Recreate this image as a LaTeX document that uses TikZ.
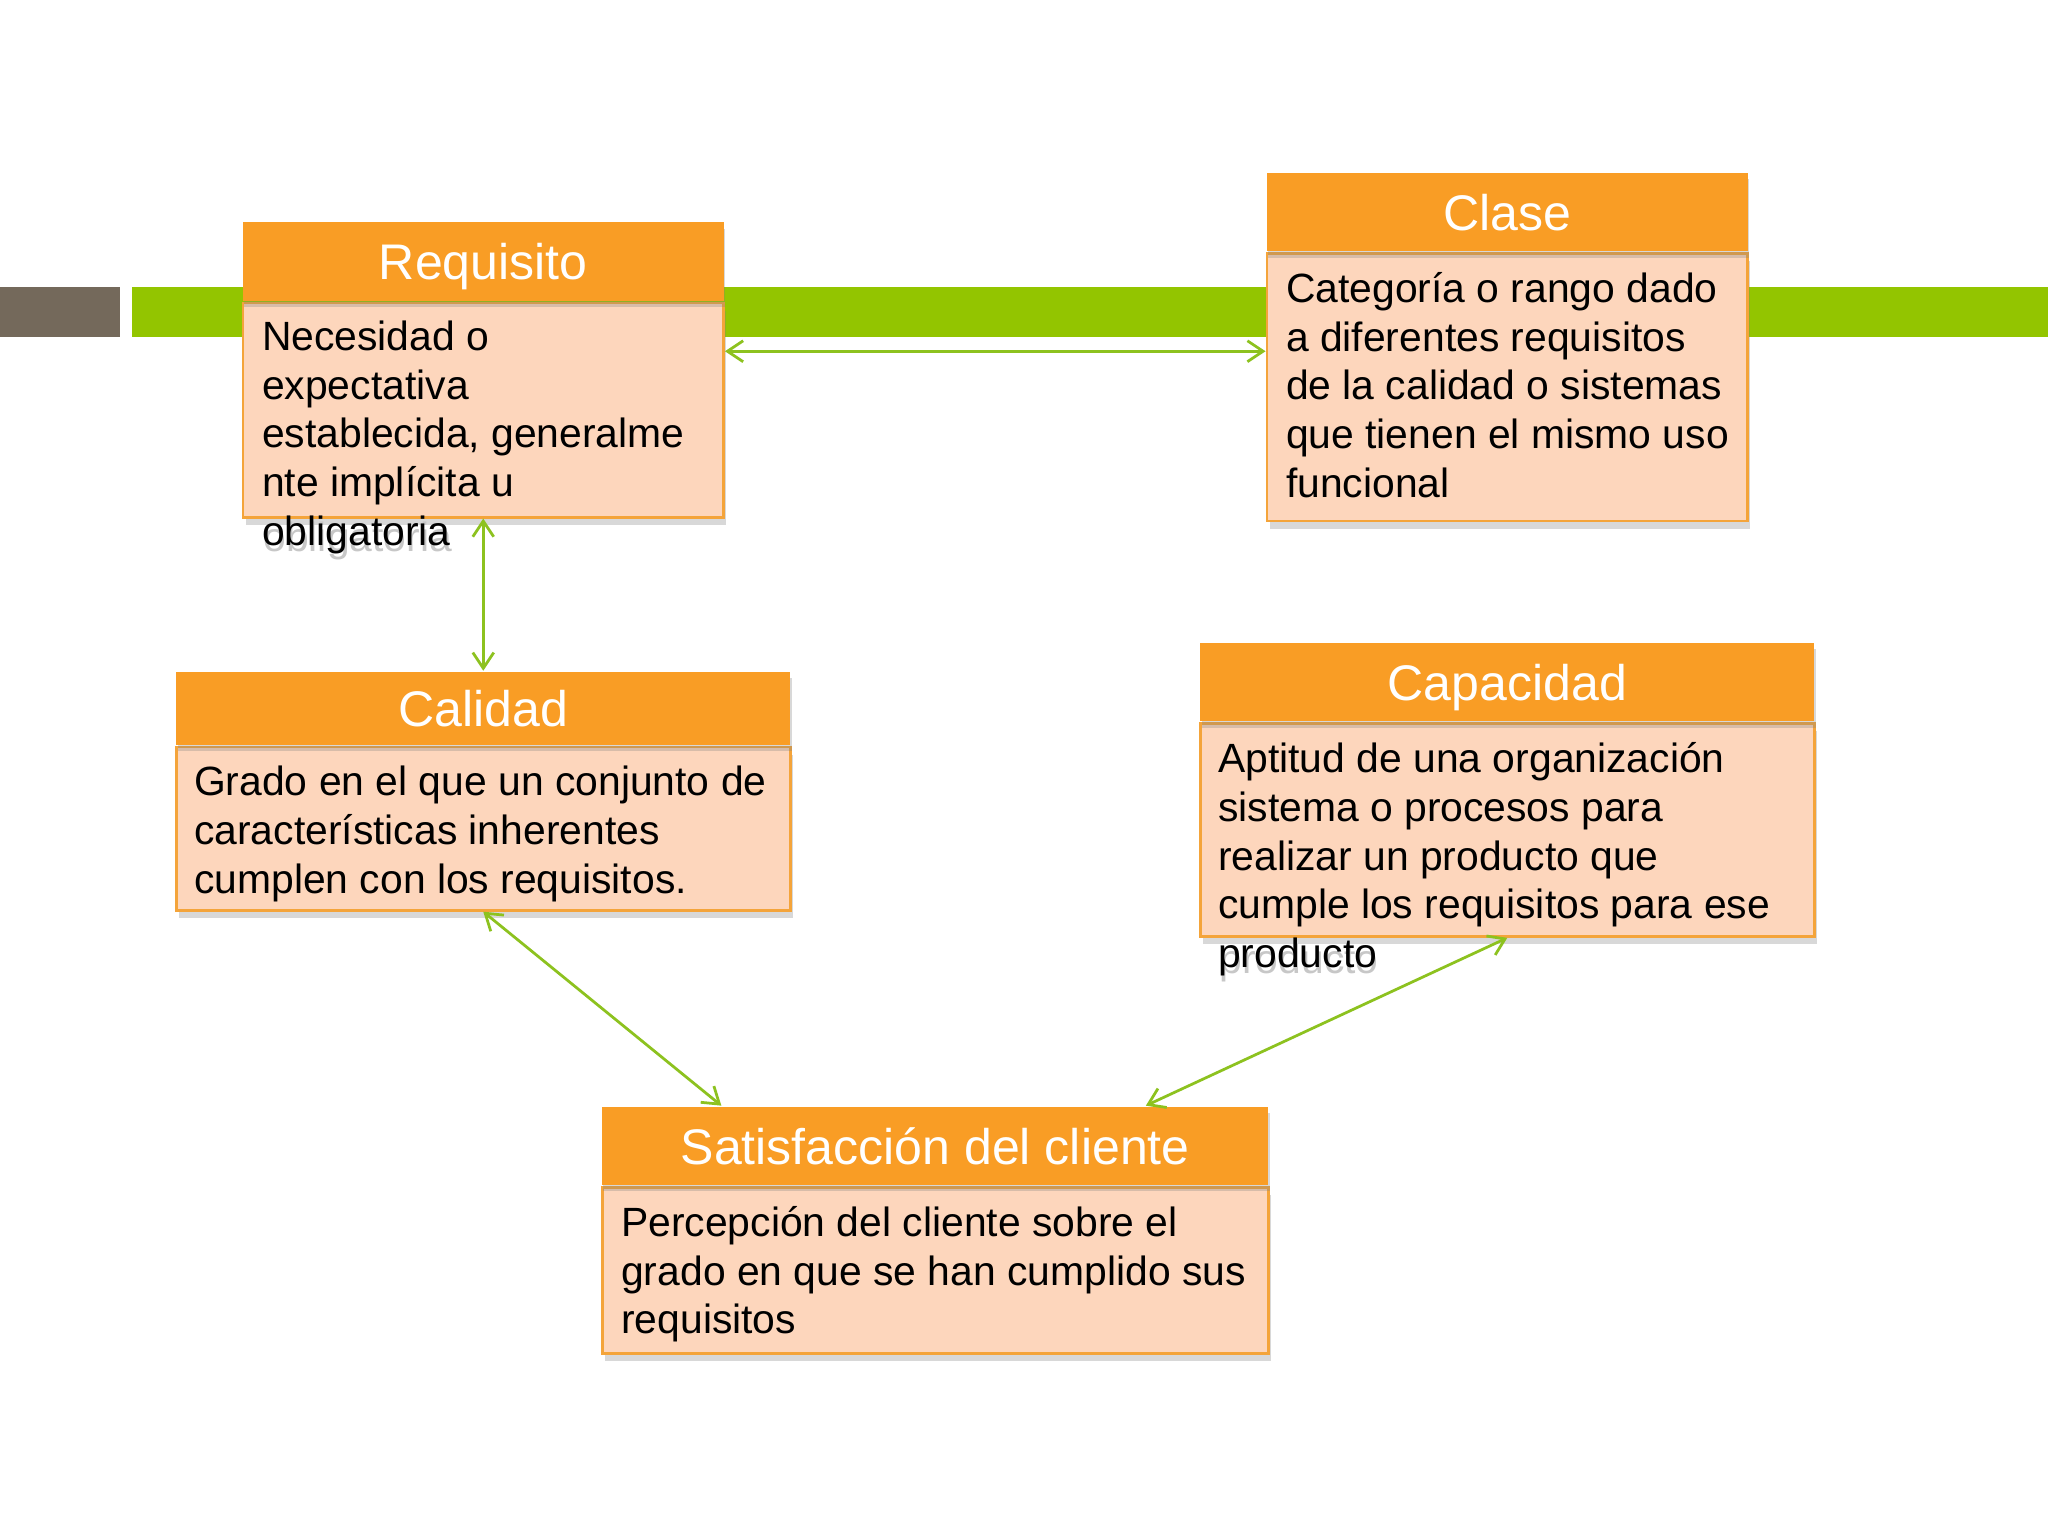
\documentclass[tikz,border=0pt]{standalone}
\usepackage{fontspec}
\setmainfont{Liberation Sans}
\usetikzlibrary{arrows.meta,positioning,calc,shadows}
\definecolor{bar}{HTML}{93C500}
\definecolor{slate}{HTML}{74695B}
\definecolor{amber}{HTML}{F99D25}
\definecolor{peach}{HTML}{FDD6BC}
\definecolor{rim}{HTML}{F4A43A}
\definecolor{wire}{HTML}{8DC21F}
\newcommand{\shtext}[1]{\makebox[0pt][l]{\raisebox{-1.4pt}{\hspace{.3pt}\textcolor{black!22}{#1}}}#1}

\begin{document}
\begin{tikzpicture}[head/.style={fill=amber,text=white,inner sep=0,minimum height=.6cm,text depth=0pt,font=\fontsize{10.9}{13}\selectfont,drop shadow={shadow xshift=.1mm,shadow yshift=-.5mm,opacity=.3}},body/.style={draw=rim,line width=.6pt,fill=peach,inner sep=0,drop shadow={shadow xshift=.2mm,shadow yshift=-.6mm,opacity=.3}},note/.style={anchor=north west,align=left,inner sep=0,font=\fontsize{8.9}{10.6}\selectfont},link/.style={draw=wire,line width=.6pt,{Straight Barb[length=1.2mm,width=1.6mm]}-{Straight Barb[length=1.2mm,width=1.6mm]}}]
 \fill[white] (0,0) rectangle (15.68,11.76);
 \useasboundingbox (0,0) rectangle (15.68,11.76);
 % bars across the top
 \fill[slate] (0,9.18) rectangle (.92,9.56);
 \fill[bar] (1.01,9.18) rectangle (15.68,9.56);
 % boxes
 \node[body,minimum width=3.68cm,minimum height=1.64cm] (reqbody) at (3.70,8.62) {};
 \node[head,minimum width=3.68cm,above=0pt of reqbody] (reqhead) {Requisito};
 \node[note,below right=.14cm and .15cm of reqbody.north west] (reqtext) {Necesidad o\\expectativa\\establecida, generalme\\nte implícita u\\\shtext{obligatoria}};
 \node[body,minimum width=3.68cm,minimum height=2.05cm] (clsbody) at (11.54,8.795) {};
 \node[head,minimum width=3.68cm,above=0pt of clsbody] (clshead) {Clase};
 \node[note,below right=.15cm and .15cm of clsbody.north west] (clstext) {Categoría o rango dado\\a diferentes requisitos\\de la calidad o sistemas\\que tienen el mismo uso\\funcional};
 \node[body,minimum width=4.70cm,minimum height=1.25cm] (calbody) at (3.70,5.415) {};
 \node[head,minimum width=4.70cm,minimum height=.56cm,above=0pt of calbody] (calhead) {Calidad};
 \node[note,below right=.15cm and .14cm of calbody.north west] (caltext) {Grado en el que un conjunto de\\características inherentes\\cumplen con los requisitos.};
 \node[body,minimum width=4.70cm,minimum height=1.63cm] (capbody) at (11.54,5.405) {};
 \node[head,minimum width=4.70cm,above=0pt of capbody] (caphead) {Capacidad};
 \node[note,below right=.15cm and .14cm of capbody.north west] (captext) {Aptitud de una organización\\sistema o procesos para\\realizar un producto que\\cumple los requisitos para ese\\\shtext{producto}};
 \node[body,minimum width=5.10cm,minimum height=1.27cm] (satbody) at (7.16,2.035) {};
 \node[head,minimum width=5.10cm,above=0pt of satbody] (sathead) {Satisfacción del cliente};
 \node[note,below right=.15cm and .15cm of satbody.north west] (sattext) {Percepción del cliente sobre el\\grado en que se han cumplido sus\\requisitos};
 % links
 \coordinate (reqside) at ($(reqbody.north east)+(0,-.38)$);
 \coordinate (satleft) at ($(sathead.north west)+(.92,0)$);
 \coordinate (satright) at ($(sathead.north west)+(4.17,0)$);
 \draw[link] (reqside) -- (reqside -| clsbody.west);
 \draw[link] (reqbody.south) -- (calhead.north);
 \draw[link] (calbody.south) -- (satleft);
 \draw[link] (capbody.south) -- (satright);
\end{tikzpicture}
\end{document}
